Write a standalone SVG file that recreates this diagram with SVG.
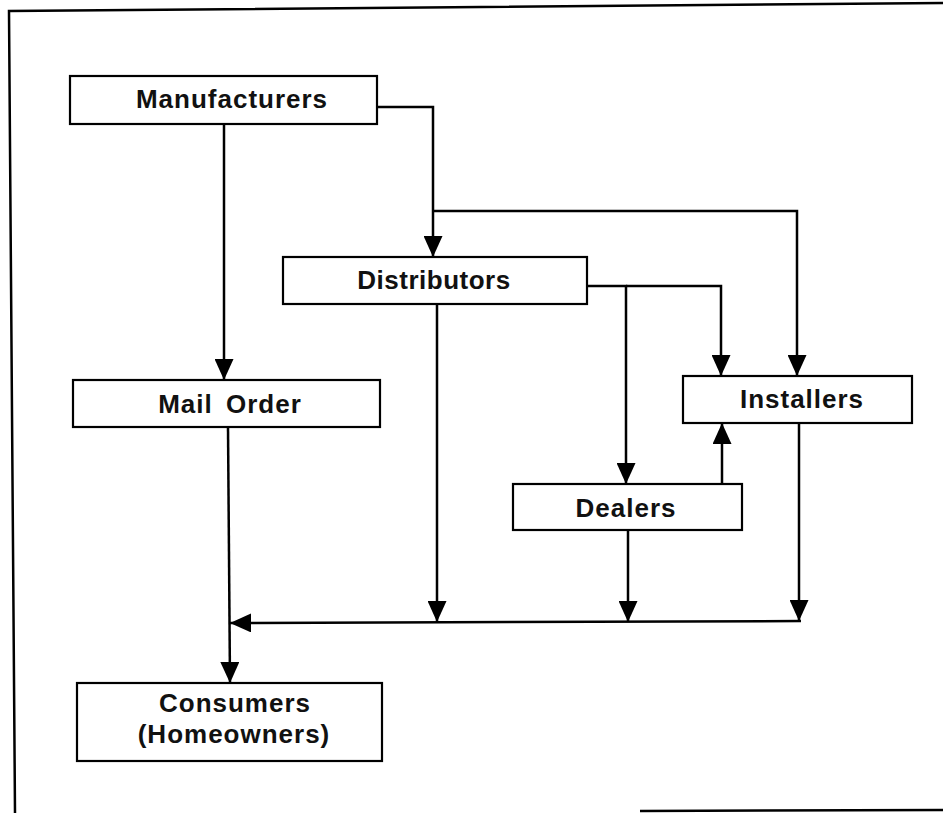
<svg xmlns="http://www.w3.org/2000/svg" width="943" height="813" viewBox="0 0 943 813">
  <style>
    .frame { fill: none; stroke: #000; stroke-width: 2.5; }
    .box { fill: #fff; stroke: #000; stroke-width: 2.2; }
    .label { font-family: "Liberation Sans", Arial, Helvetica, sans-serif; font-weight: bold; font-size: 26px; letter-spacing: 1px; fill: #111; text-anchor: middle; }
    .wire { fill: none; stroke: #000; stroke-width: 2.5; }
  </style>
  <defs>
    <marker id="arrow" markerUnits="userSpaceOnUse" markerWidth="21" markerHeight="19" refX="21" refY="9.5" orient="auto" viewBox="0 0 21 19">
      <path d="M0,0 L21,9.5 L0,19 Z" fill="#000"/>
    </marker>
  </defs>

  <rect width="943" height="813" fill="#fff"/>

  <!-- outer frame -->
  <g id="frame">
    <path class="frame" d="M943,3 L9,11 L15,813"/>
    <path class="frame" d="M640,811 L943,810"/>
  </g>

  <!-- connectors -->
  <g id="connectors">
    <path class="wire" d="M377,107 H433 V257" marker-end="url(#arrow)"/>
    <path class="wire" d="M433,211 H797 V376" marker-end="url(#arrow)"/>
    <path class="wire" d="M224,124 V380" marker-end="url(#arrow)"/>
    <path class="wire" d="M587,286 H626 V484" marker-end="url(#arrow)"/>
    <path class="wire" d="M626,286 H721 V376" marker-end="url(#arrow)"/>
    <path class="wire" d="M722,484 V423" marker-end="url(#arrow)"/>
    <path class="wire" d="M437,304 V622" marker-end="url(#arrow)"/>
    <path class="wire" d="M628,530 V622" marker-end="url(#arrow)"/>
    <path class="wire" d="M799,423 V621" marker-end="url(#arrow)"/>
    <path class="wire" d="M801,621 L230,623" marker-end="url(#arrow)"/>
    <path class="wire" d="M228,427 L230,683" marker-end="url(#arrow)"/>
  </g>

  <!-- nodes -->
  <g id="manufacturers">
    <rect class="box" x="70" y="76" width="307" height="48"/>
    <text class="label" x="232" y="108">Manufacturers</text>
  </g>
  <g id="distributors">
    <rect class="box" x="283" y="257" width="304" height="47"/>
    <text class="label" x="434" y="289" style="letter-spacing:0.5px">Distributors</text>
  </g>
  <g id="mail-order">
    <rect class="box" x="73" y="380" width="307" height="47"/>
    <text class="label" x="230" y="413" style="word-spacing:5px">Mail Order</text>
  </g>
  <g id="installers">
    <rect class="box" x="683" y="376" width="229" height="47"/>
    <text class="label" x="802" y="408">Installers</text>
  </g>
  <g id="dealers">
    <rect class="box" x="513" y="484" width="229" height="46"/>
    <text class="label" x="626" y="517">Dealers</text>
  </g>
  <g id="consumers">
    <rect class="box" x="77" y="683" width="305" height="78"/>
    <text class="label" x="235" y="712">Consumers</text>
    <text class="label" x="234" y="743">(Homeowners)</text>
  </g>
</svg>
